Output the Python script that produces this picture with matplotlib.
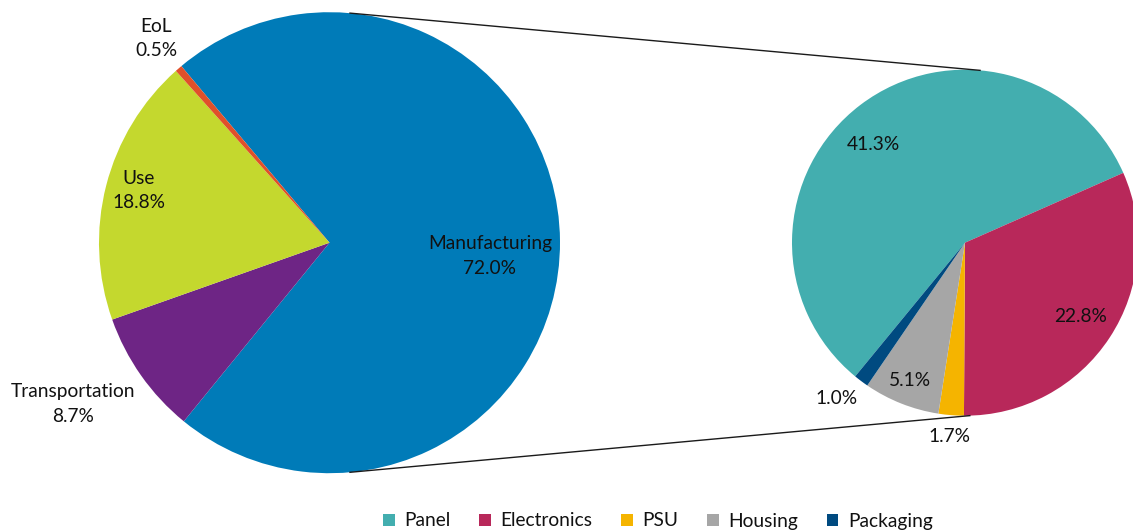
import numpy as np
import matplotlib
matplotlib.use("Agg")
import matplotlib.pyplot as plt
from matplotlib.patches import Patch

# ---- data ----
stages = ["Manufacturing", "Transportation", "Use", "EoL"]
stage_share = [72.0, 8.7, 18.8, 0.5]
stage_colors = ["#007BB8", "#6E2585", "#C4D82E", "#E0502A"]

parts = ["Panel", "Electronics", "PSU", "Housing", "Packaging"]
part_share = [41.3, 22.8, 1.7, 5.1, 1.0]
part_colors = ["#43AEAF", "#B8285A", "#F5B400", "#A6A6A6", "#004A80"]

W, H = 1133, 531
plt.rcParams['font.family'] = ['Lato', 'DejaVu Sans']
FS = 13.8
TXT = "#111111"

fig = plt.figure(figsize=(W / 100, H / 100), dpi=100)
ax = fig.add_axes([0, 0, 1, 1])

def Y(y):
    return H - y

big_c = (329.5, Y(242.7)); big_r = 230.5
small_c = (965.0, Y(242.7)); small_r = 173.0

ax.pie(stage_share, colors=stage_colors, startangle=130, counterclock=False,
       center=big_c, radius=big_r, wedgeprops=dict(linewidth=0, antialiased=True))
ax.pie(part_share, colors=part_colors, startangle=230.6, counterclock=False,
       center=small_c, radius=small_r, wedgeprops=dict(linewidth=0, antialiased=True))

ax.set_xlim(0, W)
ax.set_ylim(0, H)
ax.set_aspect('auto')
ax.axis('off')

# connector lines
def pt(c, r, ang):
    a = np.deg2rad(ang)
    return c[0] + r * np.cos(a), c[1] + r * np.sin(a)

for a_big, a_small in [(84.9, 85.0), (-84.9, -88.4)]:
    p1 = pt(big_c, big_r, a_big)
    p2 = pt(small_c, small_r, a_small)
    ax.plot([p1[0], p2[0]], [p1[1], p2[1]], color="#1a1a1a", lw=1.0)

# big pie labels
stage_pos = {"Manufacturing": (490, 256), "Transportation": (73, 404),
             "Use": (139, 190), "EoL": (156, 39)}
for name, v in zip(stages, stage_share):
    x, y = stage_pos[name]
    ax.text(x, Y(y), f"{name}\n{v:.1f}%", ha="center", va="center",
            fontsize=FS, color=TXT, linespacing=1.5)

# small pie labels
part_pos = {"Panel": (873, 145), "Electronics": (1081, 317), "PSU": (949, 436),
            "Housing": (910, 381), "Packaging": (837, 398)}
for name, v in zip(parts, part_share):
    x, y = part_pos[name]
    ax.text(x, Y(y), f"{v:.1f}%", ha="center", va="center",
            fontsize=FS, color=TXT)

handles = [Patch(facecolor=c, edgecolor='none') for c in part_colors]
fig.legend(handles, parts, loc="center", bbox_to_anchor=(658 / W, 1 - 521 / H),
           ncol=5, frameon=False, fontsize=FS, handlelength=0.6, handleheight=0.6,
           handletextpad=0.5, columnspacing=1.5, labelcolor=TXT)

fig.savefig("out.png", dpi=100)
